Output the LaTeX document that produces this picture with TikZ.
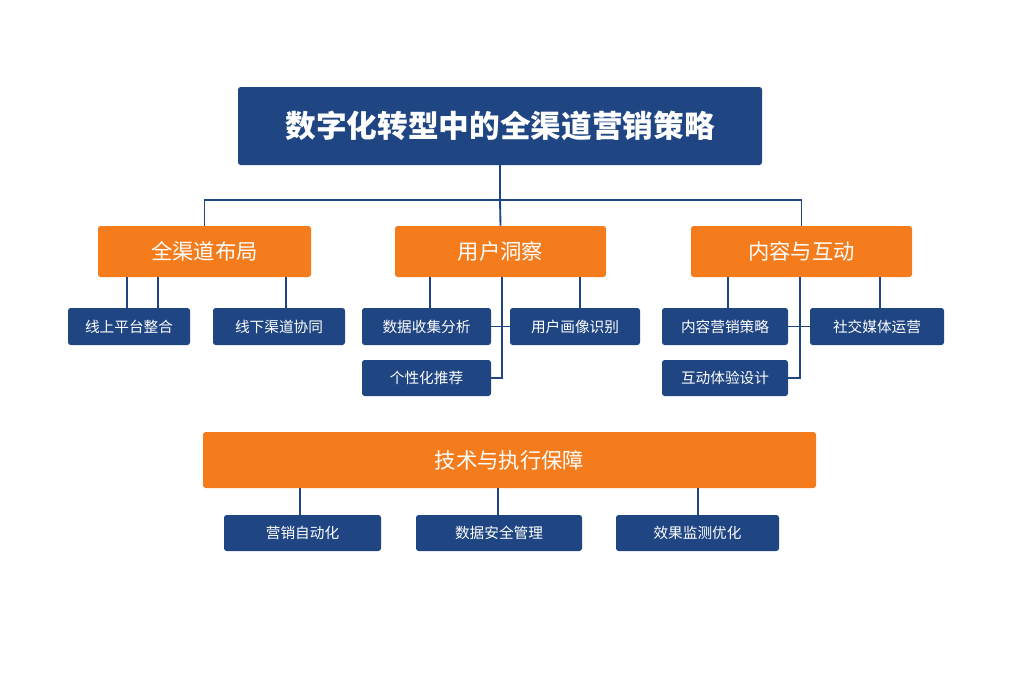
\documentclass[tikz,border=0pt]{standalone}
\usepackage{fontspec}
\newfontfamily\cjk{Noto Sans CJK SC}
\definecolor{navy}{HTML}{1F4583}
\definecolor{org}{HTML}{F47C1C}
\begin{document}
\begin{tikzpicture}[x=0.75pt,y=-0.75pt,
  font=\cjk,
  box/.style={draw=none,rounded corners=2pt,inner sep=0pt,text=white},
  title/.style={box,fill=navy,font=\cjk\bfseries\fontsize{23}{26}\selectfont},
  head/.style={box,fill=org,font=\cjk\fontsize{16}{18}\selectfont},
  leaf/.style={box,fill=navy,font=\cjk\fontsize{11}{13}\selectfont},
  ln/.style={draw=navy,line width=1.4pt}]
\useasboundingbox (0,0) rectangle (1024,683);
\newcommand\bx[6]{\node[#1,minimum width=#4*0.75pt-#2*0.75pt,minimum height=#5*0.75pt-#3*0.75pt] (#6) at ({(#2+#4)/2},{(#3+#5)/2})}
\bx{title}{238}{87}{762}{165}{t}{数字化转型中的全渠道营销策略};
\bx{head}{98}{226}{311}{277}{h1}{全渠道布局};
\bx{head}{395}{226}{606}{277}{h2}{用户洞察};
\bx{head}{691}{226}{912}{277}{h3}{内容与互动};
\bx{head}{203}{432}{816}{488}{h4}{技术与执行保障};
\bx{leaf}{68}{308}{190}{345}{a1}{线上平台整合};
\bx{leaf}{213}{308}{345}{345}{a2}{线下渠道协同};
\bx{leaf}{362}{308}{491}{345}{b1}{数据收集分析};
\bx{leaf}{510}{308}{640}{345}{b2}{用户画像识别};
\bx{leaf}{362}{360}{491}{396}{b3}{个性化推荐};
\bx{leaf}{662}{308}{788}{345}{c1}{内容营销策略};
\bx{leaf}{810}{308}{944}{345}{c2}{社交媒体运营};
\bx{leaf}{662}{360}{788}{396}{c3}{互动体验设计};
\bx{leaf}{224}{515}{381}{551}{d1}{营销自动化};
\bx{leaf}{416}{515}{582}{551}{d2}{数据安全管理};
\bx{leaf}{616}{515}{779}{551}{d3}{效果监测优化};
\coordinate (j) at (500,200);
\draw[ln] (t.south) -- (j);
\draw[ln] (h1.north) |- (j) -| (h3.north);
\draw[ln] (j) -- (h2.north);
\draw[ln] (h1.south -| a1.north) ++(29,0) -- ++(0,31);
\draw[ln] (127,277) -- (127,308);
\draw[ln] (286,277) -- (286,308);
\draw[ln] (430,277) -- (430,308);
\draw[ln] (580,277) -- (580,308);
\draw[ln] (502,277) -- (502,378) -- (b3.east);
\draw[ln] (b1.east) -- (b2.west);
\draw[ln] (728,277) -- (728,308);
\draw[ln] (880,277) -- (880,308);
\draw[ln] (800,277) -- (800,378) -- (c3.east);
\draw[ln] (c1.east) -- (c2.west);
\draw[ln] (300,488) -- (300,515);
\draw[ln] (498,488) -- (498,515);
\draw[ln] (698,488) -- (698,515);
\end{tikzpicture}
\end{document}
